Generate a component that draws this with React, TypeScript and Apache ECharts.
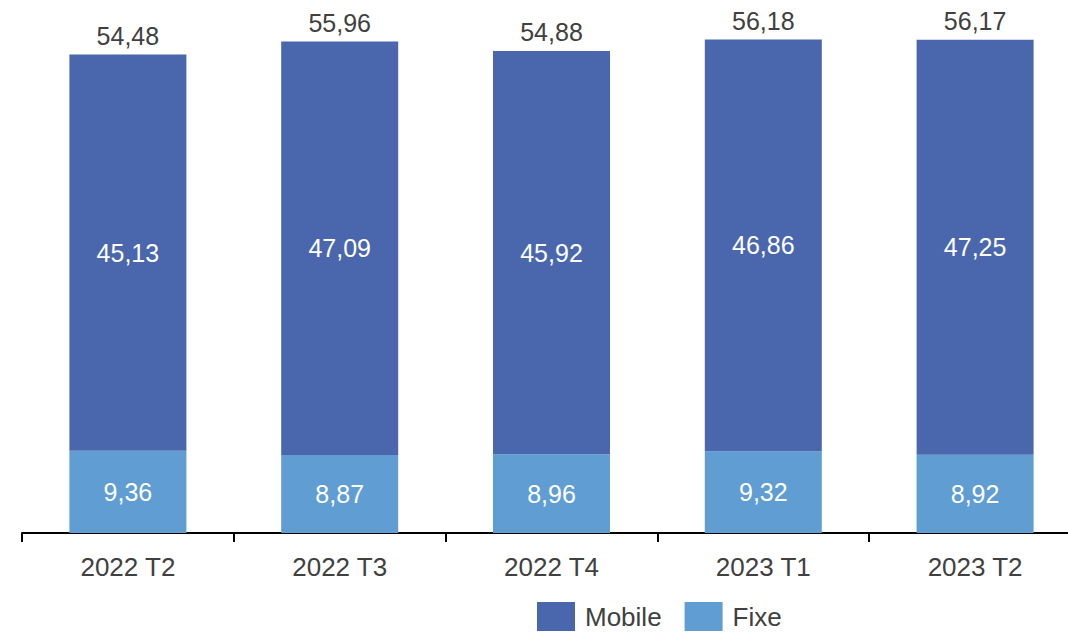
import React, { useEffect, useRef } from "react";
import * as echarts from "echarts";

const categories = ["2022 T2", "2022 T3", "2022 T4", "2023 T1", "2023 T2"];
const fixe = [9.36, 8.87, 8.96, 9.32, 8.92];
const mobile = [45.13, 47.09, 45.92, 46.86, 47.25];
const totals = [54.48, 55.96, 54.88, 56.18, 56.17];

const fmt = (v: number) => v.toFixed(2).replace(".", ",");

export default function App() {
  const ref = useRef<HTMLDivElement>(null);
  useEffect(() => {
    document.body.style.margin = "0";
    const chart = echarts.init(ref.current!, null, { renderer: "svg" });
    const font = "Liberation Sans, Arial, sans-serif";
    chart.setOption({
      animation: false,
      textStyle: { fontFamily: font },
      grid: { left: 22, top: 6, width: 1059, height: 527, containLabel: false },
      legend: {
        data: ["Mobile", "Fixe"],
        left: 537,
        top: 602,
        itemWidth: 38,
        itemHeight: 29,
        itemGap: 23,
        icon: "rect",
        textStyle: { fontSize: 26, color: "#404040", fontFamily: font, padding: [0, 0, 0, 5] },
        padding: 0,
      },
      xAxis: {
        type: "category",
        data: categories,
        axisLine: { lineStyle: { color: "#000", width: 2 } },
        axisTick: { show: true, length: 9, lineStyle: { color: "#000", width: 2 } },
        axisLabel: { fontSize: 26, color: "#404040", margin: 21, fontFamily: font },
      },
      yAxis: {
        type: "value",
        min: 0,
        max: 60,
        show: false,
        splitLine: { show: false },
      },
      series: [
        {
          name: "Fixe",
          type: "bar",
          stack: "s",
          data: fixe,
          barWidth: 117,
          itemStyle: { color: "#5F9DD2" },
          label: {
            show: true,
            position: "inside",
            color: "#fff",
            fontSize: 25,
            fontFamily: font,
            formatter: (p: any) => fmt(p.value),
          },
        },
        {
          name: "Mobile",
          type: "bar",
          stack: "s",
          data: mobile,
          barWidth: 117,
          itemStyle: { color: "#4A67AE" },
          label: {
            show: true,
            position: "inside",
            color: "#fff",
            fontSize: 25,
            fontFamily: font,
            formatter: (p: any) => fmt(p.value),
          },
        },
        {
          name: "Total",
          type: "bar",
          data: totals,
          barWidth: 117,
          barGap: "-100%",
          itemStyle: { color: "rgba(0,0,0,0)" },
          silent: true,
          z: 1,
          label: {
            show: true,
            position: "top",
            distance: 6,
            color: "#404040",
            fontSize: 25,
            fontFamily: font,
            formatter: (p: any) => fmt(p.value),
          },
        },
      ],
    });
    return () => chart.dispose();
  }, []);
  return (
    <div style={{ width: 1068, height: 632, overflow: "hidden", position: "relative" }}>
      <div ref={ref} style={{ width: 1100, height: 632 }} />
    </div>
  );
}
